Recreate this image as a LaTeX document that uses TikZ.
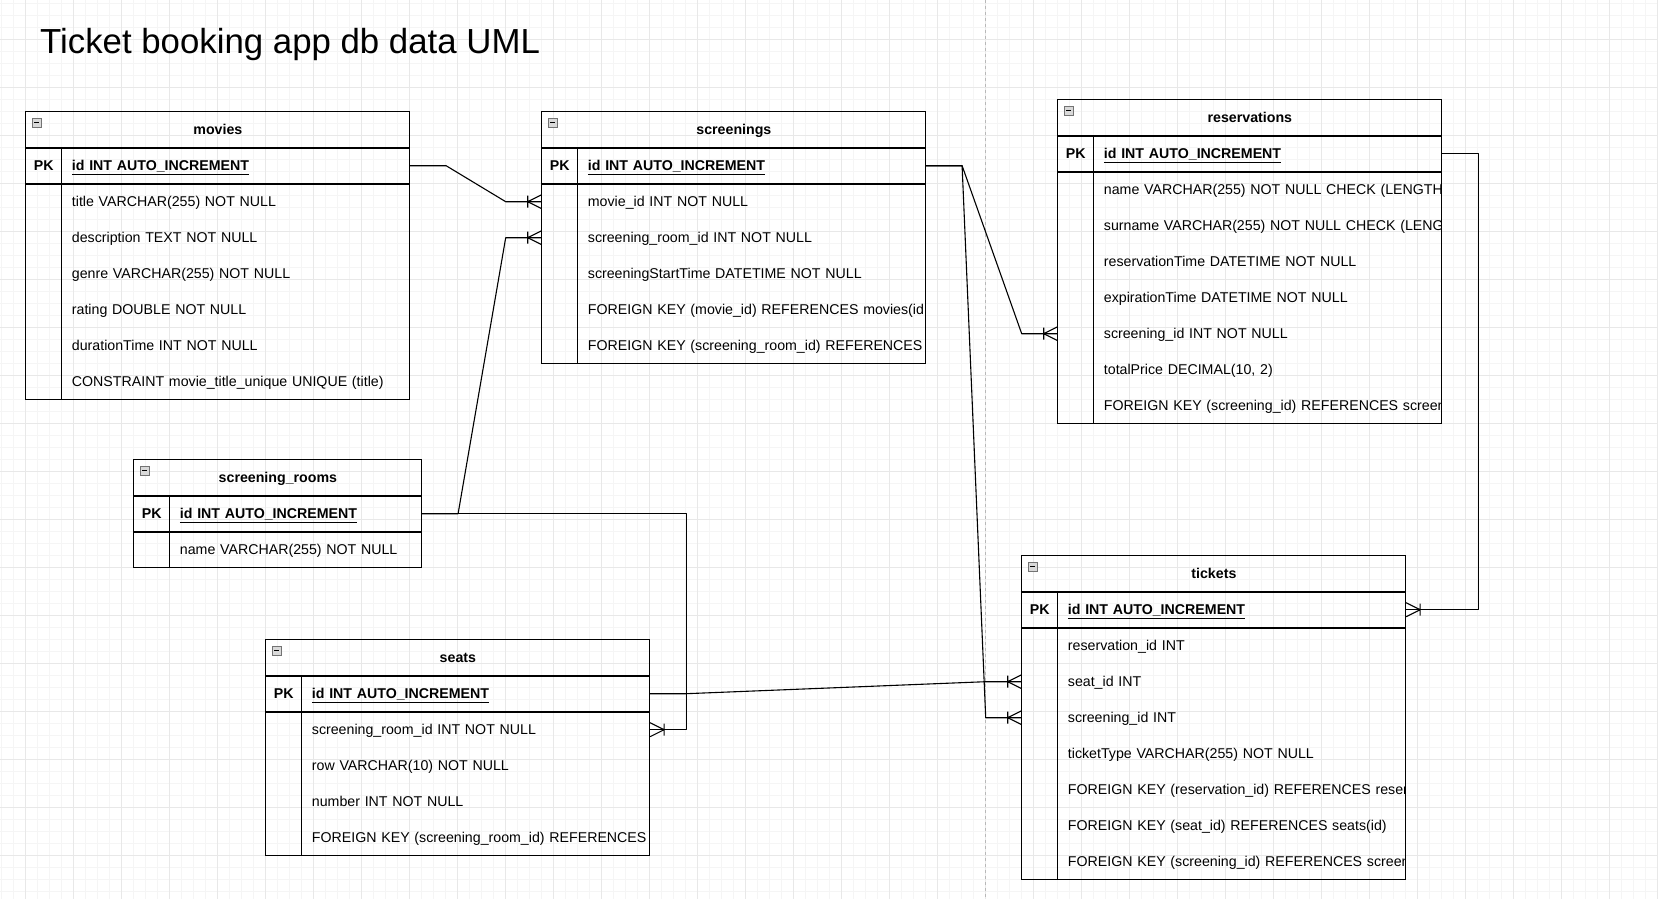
\documentclass[tikz,border=0pt]{standalone}
\usepackage{fontspec}
\setmainfont{Liberation Sans}
\usetikzlibrary{positioning}

% crow's foot with a bar, used at the "many" end of a relation
\pgfdeclarearrow{
  name = crowfoot,
  setup code = {
    \pgfarrowssettipend{0pt}
    \pgfarrowssetlineend{0pt}
    \pgfarrowssetbackend{-14pt}
    \pgfarrowssetvisualbackend{-14pt}
    \pgfarrowsupperhullpoint{-14pt}{7pt}
    \pgfarrowsupperhullpoint{0pt}{7pt}
  },
  drawing code = {
    \pgfsetdash{}{0pt}
    \pgfpathmoveto{\pgfqpoint{0pt}{7pt}}
    \pgfpathlineto{\pgfqpoint{-14pt}{0pt}}
    \pgfpathlineto{\pgfqpoint{0pt}{-7pt}}
    \pgfpathmoveto{\pgfqpoint{-14pt}{6pt}}
    \pgfpathlineto{\pgfqpoint{-14pt}{-6pt}}
    \pgfusepathqstroke
  }
}

\tikzset{
  tableframe/.style={draw=black, line width=1.2pt},
  tablehead/.style={anchor=north west, minimum height=36pt, inner sep=0pt,
    text height=12.8pt, text depth=3pt, font=\fontsize{14.2}{17}\selectfont\bfseries},
  fieldrow/.style={anchor=north west, minimum height=36pt, inner xsep=0pt, inner ysep=0pt,
    text height=12.8pt, text depth=3pt, align=left, font=\fontsize{14.2}{17}\selectfont},
  keyrow/.style={fieldrow, font=\fontsize{14.2}{17}\selectfont\bfseries},
  pklabel/.style={inner sep=0pt, text height=12.8pt, text depth=3pt,
    font=\fontsize{14.2}{17}\selectfont\bfseries},
  collapsebox/.style={draw=black!55, fill=black!15, line width=0.6pt, minimum size=9pt, inner sep=0pt,
    path picture={\draw[black, line width=1pt] ([xshift=2pt]path picture bounding box.west)
      -- ([xshift=-2pt]path picture bounding box.east);}},
  relation/.style={line width=1.1pt, line join=round, -crowfoot},
  gridminor/.style={draw=black!4, line width=0.5pt},
  gridmajor/.style={draw=black!9, line width=0.5pt},
  pagebreak/.style={draw=black!28, dash pattern=on 3pt off 3pt, line width=0.7pt},
  heading/.style={anchor=base west, inner sep=0pt, font=\fontsize{34.8}{40}\selectfont},
}

% name, x, y, width, title, number of fields, key/text list of fields
\newcommand{\dbtable}[7]{%
  \pgfmathsetmacro\rowtextw{#4-92}
  \node[tablehead, minimum width=#4pt] (#1) at (#2,#3) {#5};
  \node[collapsebox] (#1-toggle) at (#2+11,#3+11) {};
  \begin{scope}
    \clip (#2,#3) rectangle ++(#4,{36*(#6+2)});
    \node[pklabel] (#1-pk) at (#2+18,#3+54) {PK};
    \node[keyrow, minimum width=#4pt, text width=\rowtextw pt] (#1-id) at (#2,#3+36)
      {\underline{id INT AUTO\_INCREMENT}};
    \foreach \fkey/\ftext [count=\i] in {#7}
      \node[fieldrow, minimum width=#4pt, text width=\rowtextw pt] (#1-\fkey)
        at (#2,{#3+36*(\i+1)}) {\mbox{\ftext}};
  \end{scope}
  \draw[tableframe] (#2,#3) rectangle ++(#4,{36*(#6+2)});
  \draw[tableframe] (#1.south west) -- (#1.south east);
  \draw[tableframe] (#1-id.south west) -- (#1-id.south east);
  \draw[tableframe] (#2+36,#3+36) -- ++(0,{36*(#6+1)});
}

\begin{document}
\begin{tikzpicture}[x=1pt, y=-1pt]

  \path[use as bounding box, fill=white] (0,0) rectangle (1658,899);

  % background grid
  \foreach \gx in {1.7,13.7,...,1658} \draw[gridminor] (\gx,0) -- (\gx,899);
  \foreach \gy in {3.5,15.5,...,899} \draw[gridminor] (0,\gy) -- (1658,\gy);
  \foreach \gx in {25.7,73.7,...,1658} \draw[gridmajor] (\gx,0) -- (\gx,899);
  \foreach \gy in {39.5,87.5,...,899} \draw[gridmajor] (0,\gy) -- (1658,\gy);
  \draw[pagebreak] (985.7,0) -- (985.7,899);

  \node[heading] (title) at (40,53.6) {Ticket booking app db data UML};

  % tables
  \dbtable{movies}{25.7}{111.5}{384}{movies}{6}{title/title VARCHAR(255) NOT NULL,
    description/description TEXT NOT NULL, genre/genre VARCHAR(255) NOT NULL,
    rating/rating DOUBLE NOT NULL, duration/durationTime INT NOT NULL,
    unique/{CONSTRAINT movie\_title\_unique UNIQUE (title)}}

  \dbtable{screenings}{541.7}{111.5}{384}{screenings}{5}{movie/movie\_id INT NOT NULL,
    room/screening\_room\_id INT NOT NULL, start/screeningStartTime DATETIME NOT NULL,
    fkmovie/{FOREIGN KEY (movie\_id) REFERENCES movies(id},
    fkroom/{FOREIGN KEY (screening\_room\_id) REFERENCES}}

  \dbtable{reservations}{1057.7}{99.5}{384}{reservations}{7}{name/{name VARCHAR(255) NOT NULL CHECK (LENGTH},
    surname/{surname VARCHAR(255) NOT NULL CHECK (LENG}, restime/reservationTime DATETIME NOT NULL,
    exptime/expirationTime DATETIME NOT NULL, screening/screening\_id INT NOT NULL,
    price/{totalPrice DECIMAL(10, 2)}, fkscreening/{FOREIGN KEY (screening\_id) REFERENCES screen}}

  \dbtable{rooms}{133.7}{459.5}{288}{screening\_rooms}{1}{name/name VARCHAR(255) NOT NULL}

  \dbtable{seats}{265.7}{639.5}{384}{seats}{4}{room/screening\_room\_id INT NOT NULL,
    row/row VARCHAR(10) NOT NULL, number/number INT NOT NULL,
    fkroom/{FOREIGN KEY (screening\_room\_id) REFERENCES}}

  \dbtable{tickets}{1021.7}{555.5}{384}{tickets}{7}{reservation/reservation\_id INT,
    seat/seat\_id INT, screening/screening\_id INT, type/ticketType VARCHAR(255) NOT NULL,
    fkreservation/{FOREIGN KEY (reservation\_id) REFERENCES reser},
    fkseat/{FOREIGN KEY (seat\_id) REFERENCES seats(id)},
    fkscreening/{FOREIGN KEY (screening\_id) REFERENCES screen}}

  % relations
  \draw[relation] (movies-id.east) -- ++(36,0) -- ([xshift=-36pt]screenings-movie.west) -- (screenings-movie.west);
  \draw[relation] (rooms-id.east) -- ++(36,0) -- ([xshift=-36pt]screenings-room.west) -- (screenings-room.west);
  \draw[relation] (rooms-id.east) -| ([xshift=36pt]seats-room.east) -- (seats-room.east);
  \draw[relation] (seats-id.east) -- ++(36,0) -- ([xshift=-36pt]tickets-seat.west) -- (tickets-seat.west);
  \draw[relation] (screenings-id.east) -- ++(36,0) -- ([xshift=-36pt]reservations-screening.west) -- (reservations-screening.west);
  \draw[relation] (screenings-id.east) -- ++(36,0) -- ([xshift=-36pt]tickets-screening.west) -- (tickets-screening.west);
  \draw[relation] (reservations-id.east) -- ++(36,0) |- (tickets-id.east);

\end{tikzpicture}
\end{document}
